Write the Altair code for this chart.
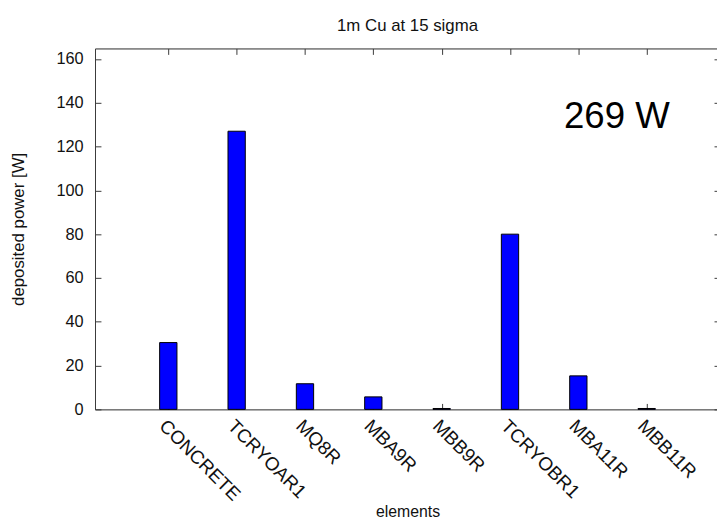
import altair as alt
import pandas as pd

# ---- data ----
categories = ["CONCRETE", "TCRYOAR1", "MQ8R", "MBA9R", "MBB9R", "TCRYOBR1", "MBA11R", "MBB11R"]
positions = [1, 2, 3, 4, 5, 6, 7, 8]
power = [30.5, 127.0, 11.7, 5.7, 0.4, 80.0, 15.3, 0.4]
y_ticks = [0, 20, 40, 60, 80, 100, 120, 140, 160]
total_label = ["269 W"]
total_x = [6.79]
total_y = [128.3]

df = pd.DataFrame({"element": categories, "pos": positions, "power": power})
ann = pd.DataFrame({"x": total_x, "y": total_y, "text": total_label})

FONT = "Liberation Sans"
AXC = "#3a3a3a"
W, H = 632, 365

label_expr = "[" + ",".join("'%s'" % c for c in categories) + "][datum.value - 1]"

xscale = alt.Scale(domain=[0, 9], nice=False, zero=False)
yscale = alt.Scale(domain=[0, 164.8], nice=False, zero=True)

base = alt.Chart(df)

bars = base.mark_bar(size=17.5, color="#0000FF", stroke="black", strokeWidth=1).encode(
    x=alt.X("pos:Q", scale=xscale,
            axis=alt.Axis(orient="bottom", values=positions, labelExpr=label_expr,
                          labelAngle=45, labelAlign="left", labelBaseline="top",
                          labelPadding=7, labelFontSize=19, labelFont=FONT, labelColor="#111",
                          labelOverlap=False, labelFlush=False, labelBound=False,
                          ticks=False, grid=False, domain=True, domainColor=AXC,
                          title="elements", titleFont=FONT, titleFontSize=16,
                          titleFontWeight="normal", titleColor="#111",
                          titleY=108, titleBaseline="alphabetic")),
    y=alt.Y("power:Q", scale=yscale,
            axis=alt.Axis(orient="left", values=y_ticks, ticks=False, grid=False,
                          domain=True, domainColor=AXC,
                          labelPadding=12, labelFontSize=16.5, labelFont=FONT, labelColor="#111",
                          title="deposited power [W]", titleFont=FONT, titleFontSize=17,
                          titleFontWeight="normal", titleColor="#111",
                          titleX=-77, titleY=H / 2, titleBaseline="middle", titleAlign="center")),
)

# inward ticks on left and top (top axis line is the top border)
ticks_a = base.mark_point(opacity=0, size=1).encode(
    x=alt.X("pos:Q", scale=xscale,
            axis=alt.Axis(orient="bottom", offset=-H, values=positions, labels=False,
                          ticks=True, tickSize=6, tickColor=AXC, grid=False,
                          domain=True, domainColor=AXC, title=None)),
    y=alt.Y("power:Q", scale=yscale,
            axis=alt.Axis(orient="right", offset=-W, values=y_ticks, labels=False,
                          ticks=True, tickSize=6, tickColor=AXC, grid=False,
                          domain=False, title=None)),
)

# inward ticks on bottom and right
ticks_b = base.mark_point(opacity=0, size=1).encode(
    x=alt.X("pos:Q", scale=xscale,
            axis=alt.Axis(orient="top", offset=-H, values=positions, labels=False,
                          ticks=True, tickSize=6, tickColor=AXC, grid=False,
                          domain=False, title=None)),
    y=alt.Y("power:Q", scale=yscale,
            axis=alt.Axis(orient="left", offset=-W, values=y_ticks, labels=False,
                          ticks=True, tickSize=6, tickColor=AXC, grid=False,
                          domain=True, domainColor=AXC, title=None)),
)

note = alt.Chart(ann).mark_text(font=FONT, fontSize=37, align="left", baseline="alphabetic",
                                color="black").encode(
    x=alt.X("x:Q", scale=xscale, axis=None),
    y=alt.Y("y:Q", scale=yscale, axis=None),
    text="text:N",
)

chart = alt.layer(bars, ticks_a, ticks_b, note).resolve_axis(
    x="independent", y="independent"
).properties(
    width=W, height=H,
    title=alt.TitleParams("1m Cu at 15 sigma", font=FONT, fontSize=17, fontWeight="normal",
                          color="#111", anchor="middle", baseline="alphabetic", offset=0),
    autosize=alt.AutoSizeParams(type="none"),
    padding={"left": 88, "top": 38, "right": -3, "bottom": 111},
).configure_view(stroke=None).configure(background="white")

chart.save("out.html", embed_options={"renderer": "svg", "actions": False})
